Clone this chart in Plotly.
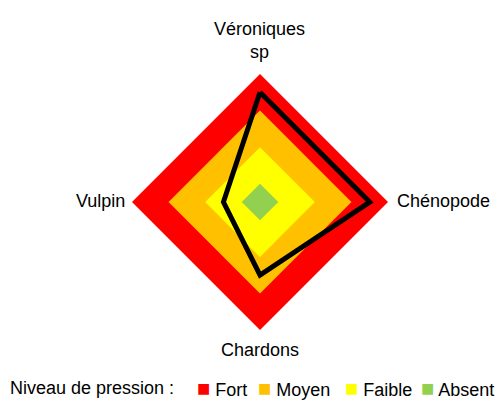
import plotly.graph_objects as go

# -------------------------------------
# DATA
# -------------------------------------
axes_labels = ["Véroniques<br>sp", "Chénopode", "Chardons", "Vulpin"]
pression = [3.5, 3.5, 2.5, 1.5]

niveaux = ["Fort", "Moyen", "Faible", "Absent"]
niveau_vals = [4, 3, 2, 1]
niveau_colors = ["#ff0000", "#ffc000", "#ffff00", "#92d050"]

theta = [0, 90, 180, 270]

FONT = "Liberation Sans, Arial, sans-serif"

fig = go.Figure()

# Bands (largest first)
for name, val, col in zip(niveaux, niveau_vals, niveau_colors):
    fig.add_trace(go.Scatterpolar(
        r=[val] * 4 + [val], theta=theta + [theta[0]],
        mode="lines", fill="toself", fillcolor=col,
        line=dict(color=col, width=0), showlegend=False, hoverinfo="skip"
    ))

# Observed pressure
fig.add_trace(go.Scatterpolar(
    r=pression + [pression[0]], theta=theta + [theta[0]],
    mode="lines", line=dict(color="black", width=5),
    showlegend=False
))

# Axis labels as annotations (placed outside the diamond)
label_pos = [
    dict(x=0.5004, y=0.922, xanchor="center", yanchor="middle"),
    dict(x=0.7694, y=0.5304, xanchor="left", yanchor="middle"),
    dict(x=0.5004, y=0.1679, xanchor="center", yanchor="middle"),
    dict(x=0.236, y=0.5304, xanchor="right", yanchor="middle"),
]
for lab, pos in zip(axes_labels, label_pos):
    fig.add_annotation(text=lab, xref="paper", yref="paper", showarrow=False,
                       font=dict(size=18), **pos)

# Legend line
fig.add_annotation(text="Niveau de pression :", xref="paper", yref="paper",
                   x=0.0, y=0.0754, xanchor="left", yanchor="middle",
                   showarrow=False, font=dict(size=18))
legend_x = [0.3718, 0.493, 0.666, 0.817]
for name, col, lx in zip(niveaux, niveau_colors, legend_x):
    fig.add_annotation(
        text=f"<span style='color:{col};font-size:22px'>■</span> {name}",
        xref="paper", yref="paper", x=lx, y=0.0754,
        xanchor="left", yanchor="middle", showarrow=False, font=dict(size=18)
    )

fig.update_layout(
    width=503, height=411,
    margin=dict(l=0, r=0, t=0, b=0),
    paper_bgcolor="white",
    showlegend=False,
    font=dict(family=FONT, size=18, color="#000000"),
    polar=dict(
        domain=dict(x=[0.2465, 0.7555], y=[0.2165, 0.8394]),
        bgcolor="rgba(0,0,0,0)",
        radialaxis=dict(range=[0.5, 4], visible=False, showgrid=False),
        angularaxis=dict(
            direction="clockwise", rotation=90,
            tickvals=theta, showticklabels=False,
            showgrid=False, showline=False, ticks="",
        ),
        gridshape="linear",
    ),
)

fig.write_html("out.html")
